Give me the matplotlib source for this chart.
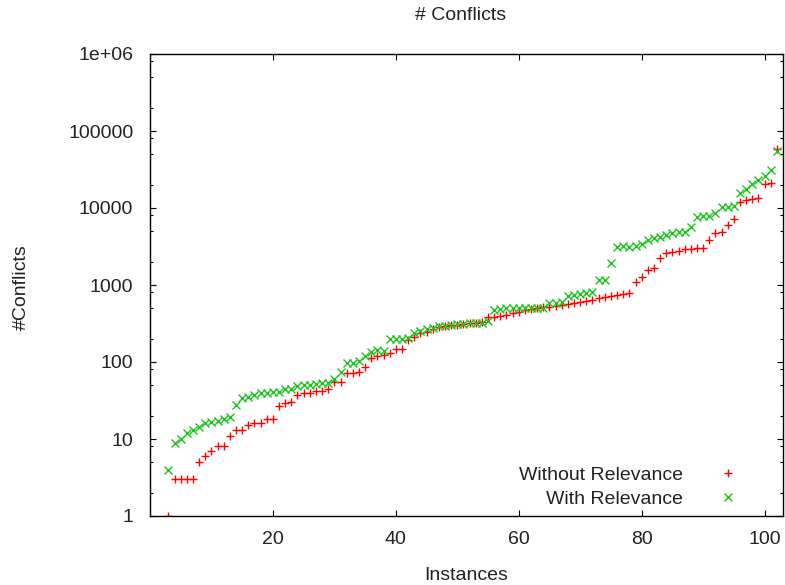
import numpy as np
import matplotlib
matplotlib.use("Agg")
import matplotlib.pyplot as plt
from matplotlib.ticker import LogLocator, NullFormatter, FixedLocator

plt.rcParams['font.family'] = ['Liberation Sans', 'DejaVu Sans']

# instances 3..102, sorted conflict counts
instances = list(range(3, 103))

without_rel = [
    1, 3, 3, 3, 3, 5, 6, 7, 8, 8,
    11, 13, 13, 15, 16, 16, 18, 18, 27, 29,
    30, 37, 40, 40, 42, 42, 44, 55, 55, 72,
    72, 75, 87, 112, 120, 125, 130, 146, 146, 193,
    213, 236, 248, 266, 287, 293, 302, 302, 312, 318,
    318, 334, 380, 387, 390, 407, 429, 440, 473, 483,
    498, 513, 520, 533, 550, 560, 578, 607, 622, 638,
    671, 690, 719, 741, 764, 790, 1104, 1260, 1566, 1648,
    2220, 2630, 2710, 2790, 2900, 2900, 2990, 2990, 3840, 4690,
    4930, 6010, 7130, 12070, 12700, 12950, 13300, 20300, 21300, 57800,
]

with_rel = [
    4, 9, 10, 12, 13, 14.5, 16, 16.5, 17, 18,
    19.5, 27.6, 33.7, 35, 37, 39, 39, 41, 41, 44,
    45, 48.7, 51, 51, 52, 53, 54, 61, 75, 98,
    98, 103, 120, 136, 143, 140, 197, 197, 197, 206,
    236, 250, 266, 274, 293, 293, 302, 312, 312, 324,
    324, 320, 340, 473, 490, 505, 505, 505, 505, 500,
    500, 510, 590, 590, 607, 719, 741, 764, 795, 818,
    1160, 1160, 1950, 3140, 3200, 3150, 3200, 3450, 3800, 4050,
    4200, 4500, 4700, 4850, 4950, 5700, 7560, 7860, 7900, 8700,
    10200, 10200, 10600, 15500, 17500, 20500, 23100, 26000, 31200, 55400,
]

x_ticks = [20, 40, 60, 80, 100]
y_ticks = [1, 10, 100, 1000, 10000, 100000, 1000000]
y_labels = ['1', '10', '100', '1000', '10000', '100000', '1e+06']

fs = 14

fig = plt.figure(figsize=(7.85, 5.85), dpi=100)
ax = fig.add_axes([150 / 785, 69 / 585, 633 / 785, 462 / 585])

ax.plot(instances, without_rel, linestyle='none', marker='+', color='#ff0000',
        markersize=6, markeredgewidth=1.0, label='Without Relevance')
ax.plot(instances, with_rel, linestyle='none', marker='x', color='#1ec41e',
        markersize=5.5, markeredgewidth=1.0, label='With Relevance')

ax.set_yscale('log')
ax.set_xlim(0, 103)
ax.set_ylim(1, 1e6)

ax.xaxis.set_major_locator(FixedLocator(x_ticks))
ax.set_xticklabels([str(t) for t in x_ticks])
ax.set_yticks(y_ticks)
ax.set_yticklabels(y_labels)
ax.yaxis.set_minor_locator(LogLocator(base=10, subs=[2, 5, 8]))
ax.yaxis.set_minor_formatter(NullFormatter())

ax.tick_params(which='both', direction='in', top=True, right=True,
               labelsize=fs, colors='black', labelcolor='#222222')
ax.tick_params(which='major', length=4, width=0.8)
ax.tick_params(which='minor', length=2, width=0.8)
ax.tick_params(axis='x', pad=11)
ax.tick_params(axis='y', pad=12)

for s in ax.spines.values():
    s.set_linewidth(1.0)

fig.text(461 / 785, 1 - 16 / 585, '# Conflicts', ha='center', va='center',
         fontsize=fs, color='#222222')
fig.text(466 / 785, 1 - 575 / 585, 'Instances', ha='center', va='center',
         fontsize=fs, color='#222222')
fig.text(21 / 785, 1 - 287 / 585, '#Conflicts', ha='center', va='center',
         rotation=90, fontsize=fs, color='#222222')

leg = ax.legend(loc='lower right', bbox_to_anchor=(0.956, 0.0), frameon=False,
                markerfirst=False, fontsize=fs, handletextpad=1.3,
                borderaxespad=0.0, labelspacing=0.33, handlelength=2.0)
for t in leg.get_texts():
    t.set_color('#222222')

fig.savefig('out.png', dpi=100)
